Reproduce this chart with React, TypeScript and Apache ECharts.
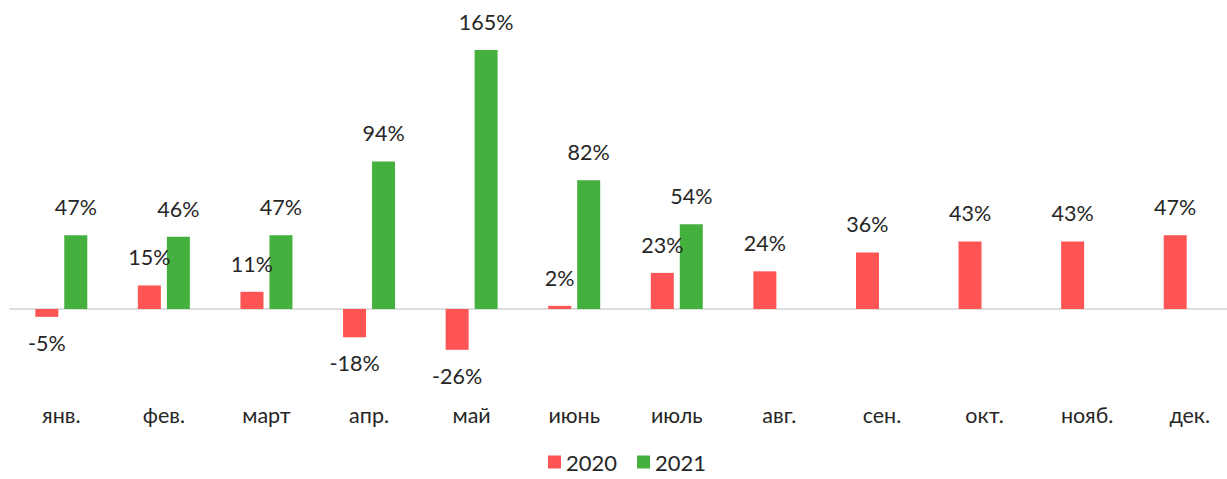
import React, { useEffect, useRef } from "react";
import * as echarts from "echarts";

const months = ["янв.", "фев.", "март", "апр.", "май", "июнь", "июль", "авг.", "сен.", "окт.", "нояб.", "дек."];
const values2020 = [-5, 15, 11, -18, -26, 2, 23, 24, 36, 43, 43, 47];
const values2021: (number | null)[] = [47, 46, 47, 94, 165, 82, 54, null, null, null, null, null];
const seriesNames = ["2020", "2021"];
const colors = ["#FF5454", "#44B03E"];

const FONT = "Lato, 'Open Sans', sans-serif";

export default function App() {
  const ref = useRef<HTMLDivElement>(null);
  useEffect(() => {
    if (!ref.current) return;
    const chart = echarts.init(ref.current, undefined, { renderer: "svg" });
    const label = {
      show: true,
      fontSize: 21.5,
      fontFamily: FONT,
      color: "#262626",
      distance: 17,
      formatter: (p: any) => `${p.value}%`,
      position: "top",
    };
    const mk = (vals: (number | null)[]) =>
      vals.map((v) =>
        v == null
          ? null
          : {
              value: v,
              label: { position: v < 0 ? "bottom" : "top", distance: v < 0 ? 15 : 17 },
            }
      );
    chart.setOption({
      animation: false,
      textStyle: { fontFamily: FONT },
      grid: { left: 10, width: 1231, top: 26.4, height: 345.4, containLabel: false },
      legend: {
        left: 543,
        top: 446,
        icon: "rect",
        itemWidth: 13,
        itemHeight: 13,
        itemGap: 20,
        textStyle: { fontSize: 22, fontFamily: FONT, color: "#262626" },
        data: seriesNames,
      },
      xAxis: [
        {
          type: "category",
          data: months,
          axisLine: { show: true, onZero: true, lineStyle: { color: "#dedede", width: 2 } },
          axisTick: { show: false },
          axisLabel: { show: false },
        },
        {
          type: "category",
          data: months,
          position: "bottom",
          axisLine: { show: false, onZero: false },
          axisTick: { show: false },
          axisLabel: { show: true, fontSize: 21.5, fontFamily: FONT, color: "#262626", margin: 32 },
        },
      ],
      yAxis: {
        type: "value",
        min: -40,
        max: 180,
        show: false,
        splitLine: { show: false },
      },
      series: [
        {
          name: seriesNames[0],
          type: "bar",
          xAxisIndex: 0,
          data: mk(values2020),
          barWidth: 23,
          barGap: "26%",
          itemStyle: { color: colors[0] },
          label,
        },
        {
          name: seriesNames[1],
          type: "bar",
          xAxisIndex: 0,
          data: mk(values2021),
          barWidth: 23,
          barGap: "26%",
          itemStyle: { color: colors[1] },
          label,
        },
      ],
    });
    return () => chart.dispose();
  }, []);
  return (
    <div style={{ position: "absolute", left: 0, top: 0, width: 1227, height: 479, overflow: "hidden" }}>
      <div ref={ref} style={{ width: 1250, height: 479 }} />
    </div>
  );
}
